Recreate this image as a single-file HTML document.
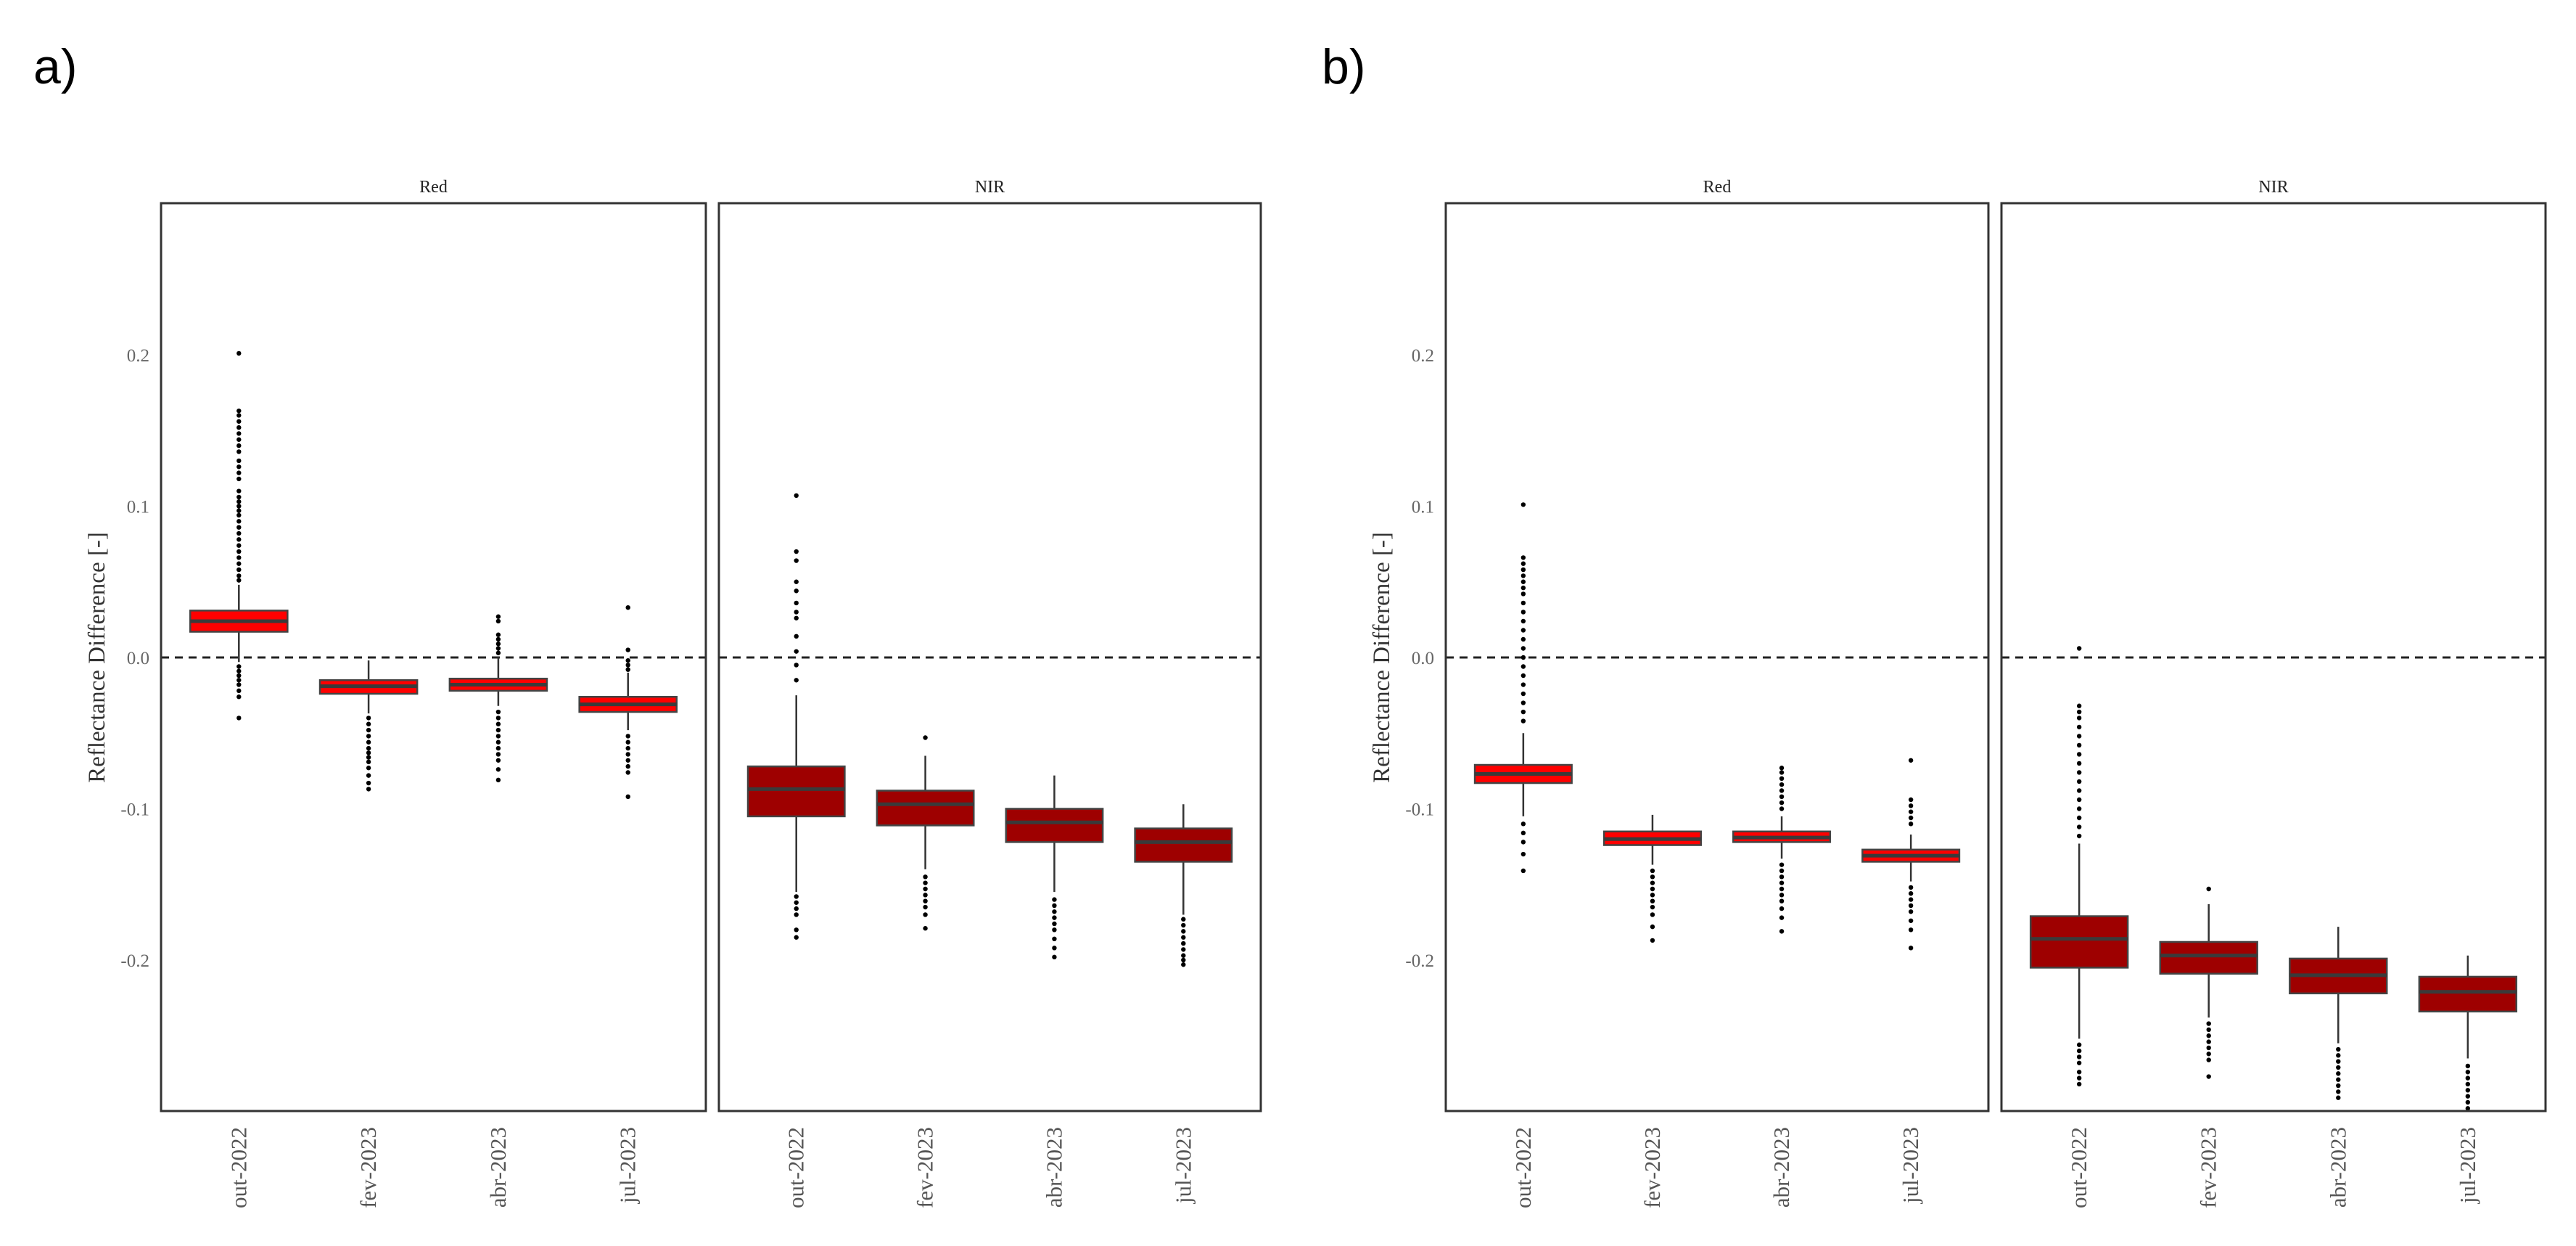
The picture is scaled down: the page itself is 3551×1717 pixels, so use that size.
<!DOCTYPE html>
<html><head><meta charset="utf-8">
<style>
html,body{margin:0;padding:0;background:#fff;}
svg{display:block;}
text{font-family:"Liberation Serif",serif;}
</style></head>
<body>
<svg id="chart" width="3551" height="1717" viewBox="0 0 3551 1717" xmlns="http://www.w3.org/2000/svg">
<text x="46" y="115" style="font-family:'Liberation Sans',sans-serif" font-size="68" fill="#000">a)</text>
<text x="1822" y="115" style="font-family:'Liberation Sans',sans-serif" font-size="68" fill="#000">b)</text>
<g id="plots"></g>
</svg>
<script>
const categories = ["out-2022","fev-2023","abr-2023","jul-2023"];
const yTicks = [0.2, 0.1, 0.0, -0.2, -0.1];
const yTickLabels = ["0.2","0.1","0.0","-0.2","-0.1"];
const facetNames = ["Red","NIR"];

// [lowerWhisker, q1, median, q3, upperWhisker]
const aRedStats = [[-0.003,0.017,0.024,0.031,0.048],[-0.037,-0.024,-0.019,-0.015,-0.002],[-0.032,-0.022,-0.018,-0.014,0.0],[-0.048,-0.036,-0.031,-0.026,-0.010]];
const aNirStats = [[-0.155,-0.105,-0.087,-0.072,-0.025],[-0.140,-0.111,-0.097,-0.088,-0.065],[-0.155,-0.122,-0.109,-0.100,-0.078],[-0.170,-0.135,-0.122,-0.113,-0.097]];
const bRedStats = [[-0.105,-0.083,-0.077,-0.071,-0.050],[-0.137,-0.124,-0.120,-0.115,-0.104],[-0.133,-0.122,-0.119,-0.115,-0.105],[-0.148,-0.135,-0.131,-0.127,-0.117]];
const bNirStats = [[-0.252,-0.205,-0.186,-0.171,-0.123],[-0.238,-0.209,-0.197,-0.188,-0.163],[-0.255,-0.222,-0.210,-0.199,-0.178],[-0.265,-0.234,-0.221,-0.211,-0.197]];

const aRedOut = [
 [0.201,0.163,0.160,0.156,0.152,0.148,0.144,0.140,0.136,0.130,0.126,0.122,0.118,0.110,0.106,0.103,0.100,0.097,0.094,0.090,0.086,0.082,0.078,0.074,0.070,0.066,0.062,0.058,0.054,0.051,-0.006,-0.009,-0.012,-0.015,-0.018,-0.022,-0.026,-0.040],
 [-0.040,-0.044,-0.048,-0.052,-0.056,-0.060,-0.063,-0.066,-0.069,-0.073,-0.078,-0.083,-0.087],
 [0.027,0.024,0.015,0.012,0.009,0.006,0.003,-0.036,-0.040,-0.044,-0.048,-0.052,-0.056,-0.060,-0.064,-0.068,-0.074,-0.081],
 [0.033,0.005,-0.002,-0.005,-0.008,-0.052,-0.056,-0.060,-0.064,-0.068,-0.072,-0.076,-0.092]];
const aNirOut = [
 [0.107,0.070,0.064,0.050,0.044,0.036,0.030,0.026,0.014,0.004,-0.005,-0.015,-0.158,-0.162,-0.166,-0.170,-0.180,-0.185],
 [-0.053,-0.145,-0.149,-0.153,-0.157,-0.161,-0.165,-0.170,-0.179],
 [-0.160,-0.164,-0.168,-0.172,-0.176,-0.180,-0.186,-0.192,-0.198],
 [-0.173,-0.177,-0.181,-0.185,-0.189,-0.193,-0.197,-0.200,-0.203]];
const bRedOut = [
 [0.101,0.066,0.062,0.058,0.054,0.050,0.046,0.042,0.036,0.030,0.024,0.018,0.012,0.006,0.000,-0.006,-0.012,-0.018,-0.024,-0.030,-0.036,-0.042,-0.110,-0.116,-0.122,-0.130,-0.141],
 [-0.141,-0.145,-0.149,-0.153,-0.157,-0.161,-0.165,-0.170,-0.178,-0.187],
 [-0.073,-0.076,-0.080,-0.084,-0.088,-0.092,-0.096,-0.100,-0.137,-0.141,-0.145,-0.149,-0.153,-0.157,-0.161,-0.166,-0.172,-0.181],
 [-0.068,-0.094,-0.098,-0.102,-0.106,-0.110,-0.152,-0.156,-0.160,-0.164,-0.168,-0.174,-0.180,-0.192]];
const bNirOut = [
 [0.006,-0.032,-0.036,-0.040,-0.046,-0.052,-0.058,-0.064,-0.070,-0.076,-0.082,-0.088,-0.094,-0.100,-0.106,-0.112,-0.118,-0.256,-0.260,-0.264,-0.268,-0.274,-0.278,-0.282],
 [-0.153,-0.242,-0.246,-0.250,-0.254,-0.258,-0.262,-0.266,-0.277],
 [-0.259,-0.263,-0.267,-0.271,-0.275,-0.279,-0.283,-0.287,-0.291],
 [-0.270,-0.274,-0.278,-0.282,-0.286,-0.290,-0.294,-0.298,-0.301]];

const NS = "http://www.w3.org/2000/svg";
const root = document.getElementById("plots");
const yZero = 906, yPer = 2085;
const panelTop = 280, panelBot = 1531;
function yScale(v){ return yZero - v*yPer; }
function mk(tag, attrs, parent){
  const e = document.createElementNS(NS, tag);
  for (const k in attrs) e.setAttribute(k, attrs[k]);
  (parent||root).appendChild(e);
  return e;
}

const facets = [
 {x0:222, x1:973, stats:aRedStats, out:aRedOut, fill:"#ff0000", name:"a-red", label:"Red", axis:true},
 {x0:991, x1:1738, stats:aNirStats, out:aNirOut, fill:"#9e0000", name:"a-nir", label:"NIR", axis:false},
 {x0:1993, x1:2741, stats:bRedStats, out:bRedOut, fill:"#ff0000", name:"b-red", label:"Red", axis:true},
 {x0:2759, x1:3509, stats:bNirStats, out:bNirOut, fill:"#9e0000", name:"b-nir", label:"NIR", axis:false}
];

facets.forEach(f => {
  const g = mk("g", {});
  
  
  const unit = (f.x1 - f.x0) / 4.2;
  const xScale = i => f.x0 + unit*(0.6 + i);
  const bw = 0.75*unit;
  const clip = "clip-" + f.name;
  const cp = mk("clipPath", {id: clip}, g);
  mk("rect", {x:f.x0, y:panelTop, width:f.x1-f.x0, height:panelBot-panelTop}, cp);

  const strip = mk("text", {x:(f.x0+f.x1)/2, y:265, "text-anchor":"middle", "font-size":"24", fill:"#222"}, g);
  strip.textContent = f.label;
  
  

  const zl = mk("line", {x1:f.x0, x2:f.x1, y1:yScale(0), y2:yScale(0), stroke:"#222", "stroke-width":"3", "stroke-dasharray":"11 8"}, g);
  
  

  const marks = mk("g", {"clip-path":"url(#"+clip+")"}, g);
  f.stats.forEach((s, i) => {
    const cx = xScale(i);
    const bg = mk("g", {}, marks);
    
    
    mk("line", {x1:cx, x2:cx, y1:yScale(s[0]), y2:yScale(s[4]), stroke:"#333", "stroke-width":"2.5"}, bg);
    mk("rect", {x:cx-bw/2, y:yScale(s[3]), width:bw, height:yScale(s[1])-yScale(s[3]), fill:f.fill, stroke:"#444", "stroke-width":"2.5"}, bg);
    mk("line", {x1:cx-bw/2, x2:cx+bw/2, y1:yScale(s[2]), y2:yScale(s[2]), stroke:"#3a3a3a", "stroke-width":"5"}, bg);
    f.out[i].forEach(v => {
      const d = mk("circle", {cx:cx, cy:yScale(v), r:"3.2", fill:"#000"}, bg);
      
      
    });
    const lx = cx + 10, ly = 1553;
    const xl = mk("text", {x:lx, y:ly, transform:"rotate(-90 "+lx+" "+ly+")", "text-anchor":"end", "font-size":"31", fill:"#555"}, g);
    xl.textContent = categories[i];
    
    
  });

  const fr = mk("rect", {x:f.x0, y:panelTop, width:f.x1-f.x0, height:panelBot-panelTop, fill:"none", stroke:"#333", "stroke-width":"3"}, g);
  
  

  if (f.axis) {
    yTicks.forEach((t, k) => {
      const tl = mk("text", {x:f.x0-16, y:yScale(t)+9, "text-anchor":"end", "font-size":"25", fill:"#666"}, g);
      tl.textContent = yTickLabels[k];
      
      
    });
    const tx = f.x0 - 78, ty = 906;
    const at = mk("text", {x:tx, y:ty, transform:"rotate(-90 "+tx+" "+ty+")", "text-anchor":"middle", "font-size":"33", fill:"#333"}, g);
    at.textContent = "Reflectance Difference [-]";
    
    
  }
});
</script>
</body></html>
